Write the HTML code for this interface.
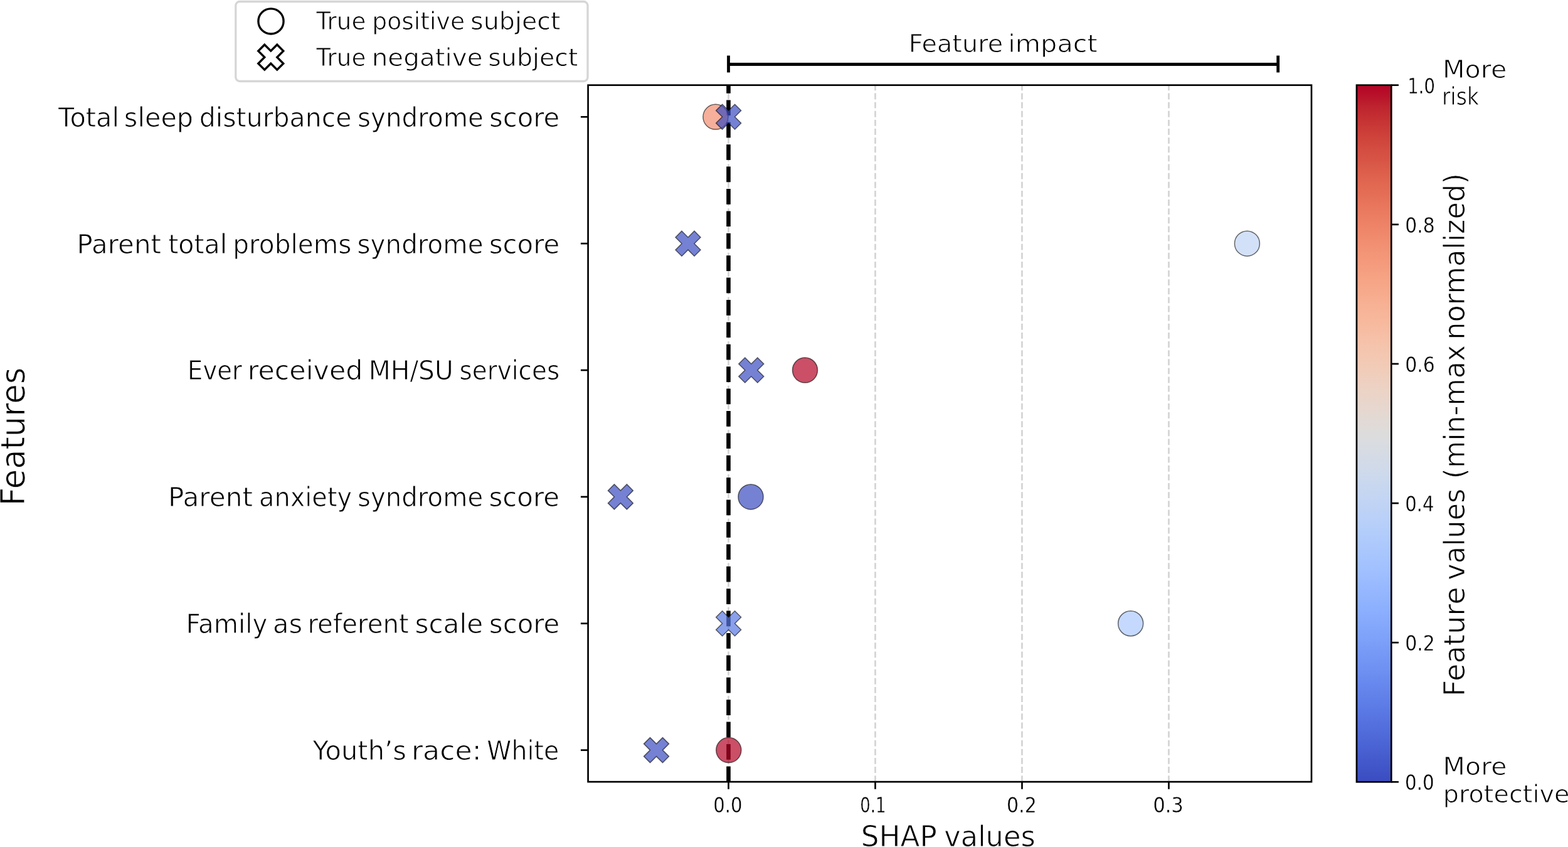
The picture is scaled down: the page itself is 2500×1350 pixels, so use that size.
<!DOCTYPE html>
<html><head><meta charset="utf-8"><title>SHAP feature impact</title>
<style>html,body{margin:0;padding:0;background:#fff;overflow:hidden}svg{display:block}text{font-family:"DejaVu Sans","Liberation Sans",sans-serif;fill:#000;stroke:#fff}</style></head>
<body><svg width="2500" height="1350" viewBox="0 0 2500 1350">
<rect width="2500" height="1350" fill="#fff"/>
<line x1="1161.50" y1="1246.10" x2="1161.50" y2="135.70" stroke="#d3d3d3" stroke-width="2.67" stroke-dasharray="9.861 4.264"/>
<line x1="1395.50" y1="1246.10" x2="1395.50" y2="135.70" stroke="#d3d3d3" stroke-width="2.67" stroke-dasharray="9.861 4.264"/>
<line x1="1629.50" y1="1246.10" x2="1629.50" y2="135.70" stroke="#d3d3d3" stroke-width="2.67" stroke-dasharray="9.861 4.264"/>
<line x1="1863.50" y1="1246.10" x2="1863.50" y2="135.70" stroke="#d3d3d3" stroke-width="2.67" stroke-dasharray="9.861 4.264"/>
<line x1="1161.50" y1="1246.10" x2="1161.50" y2="135.70" stroke="#000" stroke-width="6.6" stroke-dasharray="24.7 10.7"/>
<circle cx="1140.90" cy="186.30" r="20" fill="#f18d6f" fill-opacity="0.7" stroke="#000" stroke-opacity="0.58" stroke-width="1.5"/>
<circle cx="1988.40" cy="388.16" r="20" fill="#c0d4f5" fill-opacity="0.7" stroke="#000" stroke-opacity="0.58" stroke-width="1.5"/>
<circle cx="1283.50" cy="590.02" r="20" fill="#b40426" fill-opacity="0.7" stroke="#000" stroke-opacity="0.58" stroke-width="1.5"/>
<circle cx="1197.00" cy="791.88" r="20" fill="#3b4cc0" fill-opacity="0.7" stroke="#000" stroke-opacity="0.58" stroke-width="1.5"/>
<circle cx="1802.70" cy="993.74" r="20" fill="#adc9fd" fill-opacity="0.7" stroke="#000" stroke-opacity="0.58" stroke-width="1.5"/>
<circle cx="1161.80" cy="1195.60" r="20" fill="#b40426" fill-opacity="0.7" stroke="#000" stroke-opacity="0.58" stroke-width="1.5"/>
<polygon points="1151.60,166.30 1161.60,176.30 1171.60,166.30 1181.60,176.30 1171.60,186.30 1181.60,196.30 1171.60,206.30 1161.60,196.30 1151.60,206.30 1141.60,196.30 1151.60,186.30 1141.60,176.30" fill="#3b4cc0" fill-opacity="0.7" stroke="#000" stroke-opacity="0.58" stroke-width="1.5" stroke-linejoin="miter"/>
<polygon points="1087.00,368.16 1097.00,378.16 1107.00,368.16 1117.00,378.16 1107.00,388.16 1117.00,398.16 1107.00,408.16 1097.00,398.16 1087.00,408.16 1077.00,398.16 1087.00,388.16 1077.00,378.16" fill="#3b4cc0" fill-opacity="0.7" stroke="#000" stroke-opacity="0.58" stroke-width="1.5" stroke-linejoin="miter"/>
<polygon points="1187.80,570.02 1197.80,580.02 1207.80,570.02 1217.80,580.02 1207.80,590.02 1217.80,600.02 1207.80,610.02 1197.80,600.02 1187.80,610.02 1177.80,600.02 1187.80,590.02 1177.80,580.02" fill="#3b4cc0" fill-opacity="0.7" stroke="#000" stroke-opacity="0.58" stroke-width="1.5" stroke-linejoin="miter"/>
<polygon points="979.40,771.88 989.40,781.88 999.40,771.88 1009.40,781.88 999.40,791.88 1009.40,801.88 999.40,811.88 989.40,801.88 979.40,811.88 969.40,801.88 979.40,791.88 969.40,781.88" fill="#3b4cc0" fill-opacity="0.7" stroke="#000" stroke-opacity="0.58" stroke-width="1.5" stroke-linejoin="miter"/>
<polygon points="1151.60,973.74 1161.60,983.74 1171.60,973.74 1181.60,983.74 1171.60,993.74 1181.60,1003.74 1171.60,1013.74 1161.60,1003.74 1151.60,1013.74 1141.60,1003.74 1151.60,993.74 1141.60,983.74" fill="#5977e3" fill-opacity="0.7" stroke="#000" stroke-opacity="0.58" stroke-width="1.5" stroke-linejoin="miter"/>
<polygon points="1036.50,1175.60 1046.50,1185.60 1056.50,1175.60 1066.50,1185.60 1056.50,1195.60 1066.50,1205.60 1056.50,1215.60 1046.50,1205.60 1036.50,1215.60 1026.50,1205.60 1036.50,1195.60 1026.50,1185.60" fill="#3b4cc0" fill-opacity="0.7" stroke="#000" stroke-opacity="0.58" stroke-width="1.5" stroke-linejoin="miter"/>
<rect x="937.6" y="135.7" width="1153.40" height="1110.40" fill="none" stroke="#000" stroke-width="2.67" stroke-linejoin="miter"/>
<line x1="925.93" y1="186.30" x2="937.6" y2="186.30" stroke="#000" stroke-width="2.67"/>
<line x1="925.93" y1="388.16" x2="937.6" y2="388.16" stroke="#000" stroke-width="2.67"/>
<line x1="925.93" y1="590.02" x2="937.6" y2="590.02" stroke="#000" stroke-width="2.67"/>
<line x1="925.93" y1="791.88" x2="937.6" y2="791.88" stroke="#000" stroke-width="2.67"/>
<line x1="925.93" y1="993.74" x2="937.6" y2="993.74" stroke="#000" stroke-width="2.67"/>
<line x1="925.93" y1="1195.60" x2="937.6" y2="1195.60" stroke="#000" stroke-width="2.67"/>
<line x1="1161.50" y1="1246.1" x2="1161.50" y2="1257.77" stroke="#000" stroke-width="2.67"/>
<line x1="1395.50" y1="1246.1" x2="1395.50" y2="1257.77" stroke="#000" stroke-width="2.67"/>
<line x1="1629.50" y1="1246.1" x2="1629.50" y2="1257.77" stroke="#000" stroke-width="2.67"/>
<line x1="1863.50" y1="1246.1" x2="1863.50" y2="1257.77" stroke="#000" stroke-width="2.67"/>
<line x1="1161.5" y1="102.4" x2="2037.7" y2="102.4" stroke="#000" stroke-width="5"/>
<line x1="1161.5" y1="88.6" x2="1161.5" y2="115.5" stroke="#000" stroke-width="4.8"/>
<line x1="2037.7" y1="88.6" x2="2037.7" y2="115.5" stroke="#000" stroke-width="4.8"/>
<defs><linearGradient id="cw" x1="0" y1="0" x2="0" y2="1"><stop offset="0.0000" stop-color="#b40426"/><stop offset="0.0156" stop-color="#b8122a"/><stop offset="0.0312" stop-color="#be242e"/><stop offset="0.0469" stop-color="#c43032"/><stop offset="0.0625" stop-color="#ca3b37"/><stop offset="0.0781" stop-color="#cf453c"/><stop offset="0.0938" stop-color="#d44e41"/><stop offset="0.1094" stop-color="#d85646"/><stop offset="0.1250" stop-color="#dd5f4b"/><stop offset="0.1406" stop-color="#e16751"/><stop offset="0.1562" stop-color="#e46e56"/><stop offset="0.1719" stop-color="#e8765c"/><stop offset="0.1875" stop-color="#eb7d62"/><stop offset="0.2031" stop-color="#ee8468"/><stop offset="0.2188" stop-color="#f08b6e"/><stop offset="0.2344" stop-color="#f29274"/><stop offset="0.2500" stop-color="#f4987a"/><stop offset="0.2656" stop-color="#f59f80"/><stop offset="0.2812" stop-color="#f6a586"/><stop offset="0.2969" stop-color="#f7aa8c"/><stop offset="0.3125" stop-color="#f7b093"/><stop offset="0.3281" stop-color="#f7b599"/><stop offset="0.3438" stop-color="#f7ba9f"/><stop offset="0.3594" stop-color="#f6bfa6"/><stop offset="0.3750" stop-color="#f5c4ac"/><stop offset="0.3906" stop-color="#f3c8b2"/><stop offset="0.4062" stop-color="#f1ccb8"/><stop offset="0.4219" stop-color="#efcfbf"/><stop offset="0.4375" stop-color="#ecd3c5"/><stop offset="0.4531" stop-color="#e9d5cb"/><stop offset="0.4688" stop-color="#e5d8d1"/><stop offset="0.4844" stop-color="#e1dad6"/><stop offset="0.5000" stop-color="#dddcdc"/><stop offset="0.5156" stop-color="#d9dce1"/><stop offset="0.5312" stop-color="#d5dbe5"/><stop offset="0.5469" stop-color="#d1dae9"/><stop offset="0.5625" stop-color="#ccd9ed"/><stop offset="0.5781" stop-color="#c7d7f0"/><stop offset="0.5938" stop-color="#c3d5f4"/><stop offset="0.6094" stop-color="#bed2f6"/><stop offset="0.6250" stop-color="#b9d0f9"/><stop offset="0.6406" stop-color="#b3cdfb"/><stop offset="0.6562" stop-color="#aec9fc"/><stop offset="0.6719" stop-color="#a9c6fd"/><stop offset="0.6875" stop-color="#a3c2fe"/><stop offset="0.7031" stop-color="#9ebeff"/><stop offset="0.7188" stop-color="#98b9ff"/><stop offset="0.7344" stop-color="#93b5fe"/><stop offset="0.7500" stop-color="#8db0fe"/><stop offset="0.7656" stop-color="#88abfd"/><stop offset="0.7812" stop-color="#82a6fb"/><stop offset="0.7969" stop-color="#7da0f9"/><stop offset="0.8125" stop-color="#779af7"/><stop offset="0.8281" stop-color="#7295f4"/><stop offset="0.8438" stop-color="#6c8ff1"/><stop offset="0.8594" stop-color="#6788ee"/><stop offset="0.8750" stop-color="#6282ea"/><stop offset="0.8906" stop-color="#5d7ce6"/><stop offset="0.9062" stop-color="#5875e1"/><stop offset="0.9219" stop-color="#536edd"/><stop offset="0.9375" stop-color="#4e68d8"/><stop offset="0.9531" stop-color="#4961d2"/><stop offset="0.9688" stop-color="#445acc"/><stop offset="0.9844" stop-color="#3f53c6"/><stop offset="1.0000" stop-color="#3b4cc0"/></linearGradient></defs>
<rect x="2163.0" y="135.7" width="55.30" height="1110.60" fill="url(#cw)" stroke="#000" stroke-width="2.67"/>
<line x1="2218.3" y1="1246.30" x2="2229.97" y2="1246.30" stroke="#000" stroke-width="2.67"/>
<line x1="2218.3" y1="1024.18" x2="2229.97" y2="1024.18" stroke="#000" stroke-width="2.67"/>
<line x1="2218.3" y1="802.06" x2="2229.97" y2="802.06" stroke="#000" stroke-width="2.67"/>
<line x1="2218.3" y1="579.94" x2="2229.97" y2="579.94" stroke="#000" stroke-width="2.67"/>
<line x1="2218.3" y1="357.82" x2="2229.97" y2="357.82" stroke="#000" stroke-width="2.67"/>
<line x1="2218.3" y1="135.70" x2="2229.97" y2="135.70" stroke="#000" stroke-width="2.67"/>
<rect x="375.8" y="2.5" width="561.2" height="127" rx="6.5" ry="6.5" fill="#fff" stroke="#d6d6d6" stroke-width="3.33"/>
<circle cx="432" cy="33.9" r="20.1" fill="none" stroke="#000" stroke-width="3.33"/>
<polygon points="421.80,71.20 431.80,81.20 441.80,71.20 451.80,81.20 441.80,91.20 451.80,101.20 441.80,111.20 431.80,101.20 421.80,111.20 411.80,101.20 421.80,91.20 411.80,81.20" fill="none" stroke="#000" stroke-width="3.33" stroke-linejoin="miter"/>
<text y="201.70" font-size="42.4" stroke-width="0.9"><tspan x="93.10" textLength="97.02" lengthAdjust="spacingAndGlyphs">Total</tspan> <tspan x="197.87" textLength="110.30" lengthAdjust="spacingAndGlyphs">sleep</tspan> <tspan x="317.80" textLength="242.64" lengthAdjust="spacingAndGlyphs">disturbance</tspan> <tspan x="570.04" textLength="200.90" lengthAdjust="spacingAndGlyphs">syndrome</tspan> <tspan x="779.94" textLength="112.32" lengthAdjust="spacingAndGlyphs">score</tspan></text>
<text y="403.56" font-size="42.4" stroke-width="0.9"><tspan x="122.54" textLength="134.55" lengthAdjust="spacingAndGlyphs">Parent</tspan> <tspan x="268.16" textLength="94.06" lengthAdjust="spacingAndGlyphs">total</tspan> <tspan x="371.27" textLength="189.12" lengthAdjust="spacingAndGlyphs">problems</tspan> <tspan x="569.54" textLength="201.00" lengthAdjust="spacingAndGlyphs">syndrome</tspan> <tspan x="779.73" textLength="112.64" lengthAdjust="spacingAndGlyphs">score</tspan></text>
<text y="605.42" font-size="42.4" stroke-width="0.9"><tspan x="299.04" textLength="86.91" lengthAdjust="spacingAndGlyphs">Ever</tspan> <tspan x="394.76" textLength="183.71" lengthAdjust="spacingAndGlyphs">received</tspan> <tspan x="587.70" textLength="135.02" lengthAdjust="spacingAndGlyphs">MH/SU</tspan> <tspan x="732.44" textLength="159.86" lengthAdjust="spacingAndGlyphs">services</tspan></text>
<text y="807.28" font-size="42.4" stroke-width="0.9"><tspan x="267.92" textLength="135.07" lengthAdjust="spacingAndGlyphs">Parent</tspan> <tspan x="412.98" textLength="148.17" lengthAdjust="spacingAndGlyphs">anxiety</tspan> <tspan x="569.95" textLength="200.28" lengthAdjust="spacingAndGlyphs">syndrome</tspan> <tspan x="779.43" textLength="112.75" lengthAdjust="spacingAndGlyphs">score</tspan></text>
<text y="1009.14" font-size="42.4" stroke-width="0.9"><tspan x="296.44" textLength="129.85" lengthAdjust="spacingAndGlyphs">Family</tspan> <tspan x="435.06" textLength="47.15" lengthAdjust="spacingAndGlyphs">as</tspan> <tspan x="490.39" textLength="161.59" lengthAdjust="spacingAndGlyphs">referent</tspan> <tspan x="661.41" textLength="108.81" lengthAdjust="spacingAndGlyphs">scale</tspan> <tspan x="779.84" textLength="112.54" lengthAdjust="spacingAndGlyphs">score</tspan></text>
<text y="1211.00" font-size="42.4" stroke-width="0.9"><tspan x="498.53" textLength="149.54" lengthAdjust="spacingAndGlyphs">Youth’s</tspan> <tspan x="655.93" textLength="111.67" lengthAdjust="spacingAndGlyphs">race:</tspan> <tspan x="776.34" textLength="114.88" lengthAdjust="spacingAndGlyphs">White</tspan></text>
<text y="1294.90" font-size="33.4" stroke-width="0.4" font-family="Liberation Sans"><tspan x="1137.30" textLength="46.31" lengthAdjust="spacingAndGlyphs">0.0</tspan></text>
<text y="1294.90" font-size="33.4" stroke-width="0.4" font-family="Liberation Sans"><tspan x="1371.32" textLength="41.34" lengthAdjust="spacingAndGlyphs">0.1</tspan></text>
<text y="1294.90" font-size="33.4" stroke-width="0.4" font-family="Liberation Sans"><tspan x="1604.94" textLength="47.86" lengthAdjust="spacingAndGlyphs">0.2</tspan></text>
<text y="1294.90" font-size="33.4" stroke-width="0.4" font-family="Liberation Sans"><tspan x="1838.52" textLength="48.19" lengthAdjust="spacingAndGlyphs">0.3</tspan></text>
<text y="1259.20" font-size="33.2" stroke-width="0.4" font-family="Liberation Sans"><tspan x="2239.97" textLength="46.78" lengthAdjust="spacingAndGlyphs">0.0</tspan></text>
<text y="1037.10" font-size="33.2" stroke-width="0.4" font-family="Liberation Sans"><tspan x="2240.13" textLength="47.68" lengthAdjust="spacingAndGlyphs">0.2</tspan></text>
<text y="815.00" font-size="33.2" stroke-width="0.4" font-family="Liberation Sans"><tspan x="2240.18" textLength="46.57" lengthAdjust="spacingAndGlyphs">0.4</tspan></text>
<text y="593.00" font-size="33.2" stroke-width="0.4" font-family="Liberation Sans"><tspan x="2240.13" textLength="47.68" lengthAdjust="spacingAndGlyphs">0.6</tspan></text>
<text y="370.90" font-size="33.2" stroke-width="0.4" font-family="Liberation Sans"><tspan x="2240.35" textLength="47.35" lengthAdjust="spacingAndGlyphs">0.8</tspan></text>
<text y="148.60" font-size="33.2" stroke-width="0.4" font-family="Liberation Sans"><tspan x="2244.16" textLength="43.72" lengthAdjust="spacingAndGlyphs">1.0</tspan></text>
<text y="47.10" font-size="38.8" stroke-width="0.9"><tspan x="504.20" textLength="79.21" lengthAdjust="spacingAndGlyphs">True</tspan> <tspan x="593.21" textLength="147.91" lengthAdjust="spacingAndGlyphs">positive</tspan> <tspan x="750.04" textLength="143.62" lengthAdjust="spacingAndGlyphs">subject</tspan></text>
<text y="104.90" font-size="38.8" stroke-width="0.9"><tspan x="504.20" textLength="79.21" lengthAdjust="spacingAndGlyphs">True</tspan> <tspan x="592.73" textLength="176.87" lengthAdjust="spacingAndGlyphs">negative</tspan> <tspan x="778.24" textLength="143.31" lengthAdjust="spacingAndGlyphs">subject</tspan></text>
<text y="83.30" font-size="39" stroke-width="0.9"><tspan x="1448.71" textLength="150.51" lengthAdjust="spacingAndGlyphs">Feature</tspan> <tspan x="1607.25" textLength="142.54" lengthAdjust="spacingAndGlyphs">impact</tspan></text>
<text y="124.20" font-size="38.8" stroke-width="0.9"><tspan x="2299.94" textLength="102.39" lengthAdjust="spacingAndGlyphs">More</tspan></text>
<text y="167.00" font-size="38.8" stroke-width="0.9"><tspan x="2299.00" textLength="59.06" lengthAdjust="spacingAndGlyphs">risk</tspan></text>
<text y="1234.60" font-size="38.8" stroke-width="0.9"><tspan x="2300.56" textLength="101.96" lengthAdjust="spacingAndGlyphs">More</tspan></text>
<text y="1278.70" font-size="38.8" stroke-width="0.9"><tspan x="2300.69" textLength="201.88" lengthAdjust="spacingAndGlyphs">protective</tspan></text>
<text y="1348.80" font-size="46.6" stroke-width="0.9"><tspan x="1372.81" textLength="121.11" lengthAdjust="spacingAndGlyphs">SHAP</tspan> <tspan x="1505.32" textLength="145.42" lengthAdjust="spacingAndGlyphs">values</tspan></text>
<text transform="translate(38.90 800.30) rotate(-90)" y="0" font-size="52.6" stroke-width="0.9"><tspan x="-5.86" textLength="220.74" lengthAdjust="spacingAndGlyphs">Features</tspan></text>
<text transform="translate(2335.30 1105.20) rotate(-90)" y="0" font-size="46" stroke-width="0.9"><tspan x="-5.04" textLength="175.08" lengthAdjust="spacingAndGlyphs">Feature</tspan> <tspan x="180.47" textLength="146.20" lengthAdjust="spacingAndGlyphs">values</tspan> <tspan x="341.84" textLength="213.65" lengthAdjust="spacingAndGlyphs">(min-max</tspan> <tspan x="563.45" textLength="265.58" lengthAdjust="spacingAndGlyphs">normalized)</tspan></text>
</svg></body></html>
